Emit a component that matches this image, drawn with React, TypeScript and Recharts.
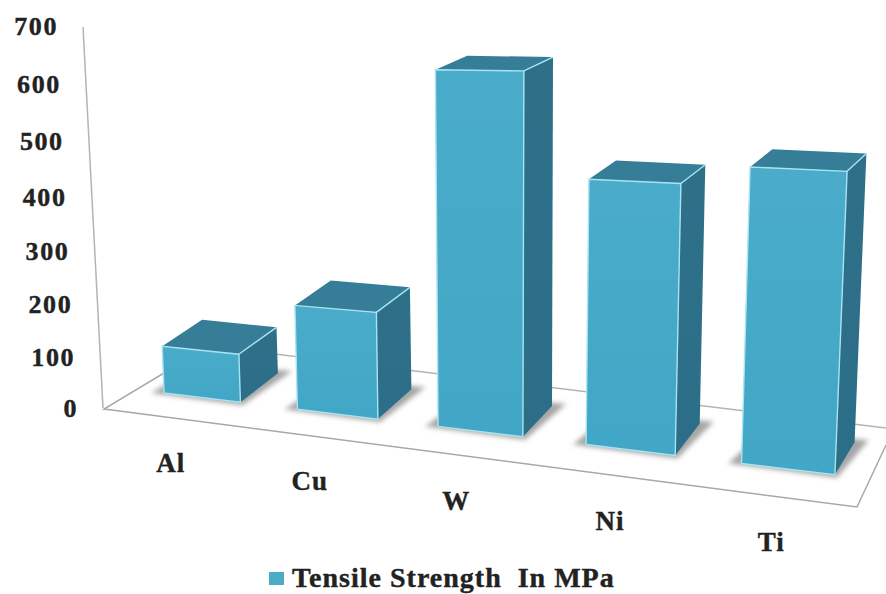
import React from "react";
import { BarChart, Bar, XAxis, YAxis, Legend, Customized } from "recharts";

// Chart content
const metals = ["Al", "Cu", "W", "Ni", "Ti"];
const tensileStrength = [85, 180, 590, 420, 450];
const strengthTicks = [0, 100, 200, 300, 400, 500, 600, 700];
const seriesName = "Tensile Strength  In MPa";
const rows = metals.map((metal, i) => ({ metal, strength: tensileStrength[i] }));

// Plot frame used by the scales
const CHART_W = 886;
const CHART_H = 594;
const PLOT_LEFT = 100;
const PLOT_W = 760;
const PLOT_TOP = 27;
const PLOT_BOTTOM = 408;

const FONT = '"Liberation Serif", serif';
const INK = "#222";

type Pt = { x: number; y: number; h: number };

// Oblique projection of the flat plot onto the tilted floor of the 3D scene.
function frontPoint(u: number, plotHeight: number): Pt {
  const bx = 137 + 640.5 * u + 92 * u * u;
  const by = 393 + 0.122 * (bx - 164);
  const h = plotHeight * (1 + 0.25 * u);
  const lean = (bx - 500) * 0.00012;
  return { x: bx + lean * h, y: by - h, h };
}

function backPoint(p: Pt): Pt {
  const dx = 40 - 0.03 * (p.x - 160);
  const dyBase = 29 + 0.006 * (p.x - 240);
  const dy = dyBase * (1 - p.h * 0.0015);
  return { x: p.x + dx, y: p.y - dy, h: p.h };
}

const toPoints = (pts: Pt[]) => pts.map((p) => `${p.x.toFixed(1)},${p.y.toFixed(1)}`).join(" ");

function Bar3D(props: any) {
  const { x, width, height } = props;
  const uL = (x - PLOT_LEFT) / PLOT_W;
  const uR = (x + width - PLOT_LEFT) / PLOT_W;
  const bl = frontPoint(uL, 0);
  const br = frontPoint(uR, 0);
  const tl = frontPoint(uL, height);
  const tr = frontPoint(uR, height);
  const bbr = backPoint(br);
  const btr = backPoint(tr);
  const btl = backPoint(tl);
  const bbl = backPoint(bl);
  const shift = (p: Pt, dx: number, dy: number) => ({ x: p.x + dx, y: p.y + dy, h: p.h });
  return (
    <g>
      <polygon
        points={toPoints([shift(bl, -13, 0), shift(br, 2, 3), shift(bbr, 14, -2), shift(bbl, 0, -2)])}
        fill="#a6a6a6"
        filter="url(#floorShadow)"
      />
      <polygon points={toPoints([br, bbr, btr, tr])} fill="url(#sideFace)" />
      <polygon points={toPoints([tl, tr, btr, btl])} fill="#367d98" />
      <polygon points={toPoints([bl, br, tr, tl])} fill="url(#frontFace)" />
      <polyline points={toPoints([bl, tl, tr, br, bl])} fill="none" stroke="#a8e4f0" strokeWidth={1.4} />
      <line x1={tr.x} y1={tr.y} x2={btr.x} y2={btr.y} stroke="#a8e4f0" strokeWidth={1.4} />
    </g>
  );
}

function StrengthTick(props: any) {
  const { y, payload } = props;
  const h = PLOT_BOTTOM - y;
  const screenY = PLOT_BOTTOM - h * (0.925 + 0.000197 * h);
  const right = 78 - 20 * (h / (PLOT_BOTTOM - PLOT_TOP));
  return (
    <text
      x={right}
      y={screenY}
      textAnchor="end"
      dominantBaseline="central"
      fontFamily={FONT}
      fontWeight="bold"
      fontSize={26}
      letterSpacing={1.6}
      stroke={INK}
      strokeWidth={0.4}
      fill={INK}
    >
      {payload.value}
    </text>
  );
}

function MetalTick(props: any) {
  const { payload } = props;
  const u = (payload.coordinate - PLOT_LEFT) / PLOT_W;
  const base = frontPoint(u, 0);
  const lx = base.x - 33 + 18 * u;
  const ly = 463 + 0.1317 * (lx - 171);
  return (
    <text
      x={lx}
      y={ly}
      textAnchor="middle"
      dominantBaseline="central"
      fontFamily={FONT}
      fontWeight="bold"
      fontSize={27}
      letterSpacing={1}
      stroke={INK}
      strokeWidth={0.4}
      fill={INK}
    >
      {payload.value}
    </text>
  );
}

// Wall edge, floor outline and shared gradients, painted under the bars.
function Scene() {
  const edge = { fill: "none", stroke: "#b4b4b4", strokeWidth: 1.5 };
  return (
    <g>
      <defs>
        <linearGradient id="frontFace" x1="0" y1="0" x2="0" y2="1">
          <stop offset="0%" stopColor="#4aacca" />
          <stop offset="100%" stopColor="#42a6c6" />
        </linearGradient>
        <linearGradient id="sideFace" x1="0" y1="0" x2="0" y2="1">
          <stop offset="0%" stopColor="#2f7089" />
          <stop offset="100%" stopColor="#2c6d88" />
        </linearGradient>
        <filter id="floorShadow" x="-20%" y="-40%" width="140%" height="180%">
          <feGaussianBlur stdDeviation="2.6" />
        </filter>
      </defs>
      <line x1={83} y1={27} x2={103} y2={408} {...edge} />
      <polyline points="209,346 886,428" {...edge} />
      <polyline points="209,346 104,409 857,507 886,445" {...edge} stroke="#a8a8a8" />
    </g>
  );
}

function StrengthLegend(props: any) {
  const item = props.payload?.[0];
  return (
    <div style={{ display: "flex", alignItems: "center", whiteSpace: "pre" }}>
      <span style={{ width: 15, height: 13, background: item?.color, marginRight: 8 }} />
      <span
        style={{
          fontFamily: FONT,
          fontWeight: "bold",
          fontSize: 28,
          letterSpacing: 1,
          lineHeight: "26px",
          color: INK,
          WebkitTextStroke: "0.4px #222",
        }}
      >
        {item?.value}
      </span>
    </div>
  );
}

export default function App() {
  return (
    <div style={{ position: "absolute", left: 0, top: 0, width: CHART_W, height: CHART_H, background: "#fff" }}>
      <BarChart
        width={CHART_W}
        height={CHART_H}
        data={rows}
        barCategoryGap="21%"
        margin={{ top: PLOT_TOP, right: CHART_W - PLOT_LEFT - PLOT_W, bottom: CHART_H - PLOT_BOTTOM - 40, left: 0 }}
      >
        <Customized component={Scene} />
        <XAxis dataKey="metal" height={40} axisLine={false} tickLine={false} interval={0} tick={MetalTick} />
        <YAxis
          width={PLOT_LEFT}
          domain={[0, 700]}
          ticks={strengthTicks}
          axisLine={false}
          tickLine={false}
          interval={0}
          tick={StrengthTick}
        />
        <Legend
          layout="horizontal"
          verticalAlign="middle"
          align="center"
          content={StrengthLegend}
          wrapperStyle={{ left: 269, top: 565, width: 380 }}
        />
        <Bar dataKey="strength" name={seriesName} fill="#4BACC6" isAnimationActive={false} shape={Bar3D} />
      </BarChart>
    </div>
  );
}
